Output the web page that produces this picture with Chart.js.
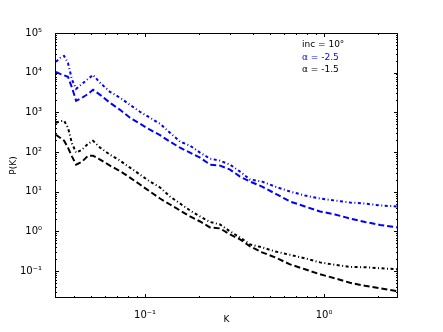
<!DOCTYPE html>
<html>
<head>
<meta charset="utf-8">
<script src="https://cdn.jsdelivr.net/npm/chart.js@4/dist/chart.umd.min.js"></script>
<style>
  html, body { margin: 0; padding: 0; background: #fff; }
  #wrap { width: 443px; height: 332px; }
</style>
</head>
<body>
<div id="wrap"><canvas id="c"></canvas></div>
<script>
// wavenumber grid shared by all four spectra
const kValues = [0.0318, 0.0335, 0.0353, 0.0371, 0.0391, 0.0412, 0.0445, 0.0481, 0.0512, 0.0561,
    0.0637, 0.0725, 0.0824, 0.0937, 0.1066, 0.1213, 0.1379, 0.1569, 0.1784, 0.2029,
    0.2307, 0.2624, 0.2984, 0.3394, 0.3860, 0.4506, 0.5325, 0.6457, 0.7834, 0.9498,
    1.152, 1.397, 1.694, 2.054, 2.59];

// alpha = -2.5 (blue)
const blueDashDot = [18700, 23500, 26400, 17600, 6590, 3920, 5230, 6980, 8810, 5540,
    3290, 2330, 1550, 1035, 731, 517, 307, 183, 145, 96.6,
    68.2, 60.8, 48.2, 32.2, 20.3, 18.0, 13.5, 10.1, 8.03, 6.75,
    6.01, 5.35, 5.05, 4.50, 4.25];
const blueDashed = [10470, 9330, 8550, 7840, 4150, 1955, 2330, 2930, 3700, 2770,
    1740, 1160, 731, 517, 365, 266, 183, 129, 96.6, 72.3,
    48.2, 45.5, 36.1, 24.1, 18.0, 13.5, 9.01, 5.67, 4.25, 3.18,
    2.67, 2.12, 1.73, 1.46, 1.26];

// alpha = -1.5 (black)
const blackDashDot = [548, 598, 615, 410, 163, 96.6, 115, 163, 193, 129,
    86.0, 60.8, 40.5, 27.0, 18.0, 12.8, 7.57, 5.05, 3.37, 2.38,
    1.73, 1.50, 1.00, 0.707, 0.471, 0.396, 0.314, 0.257, 0.210, 0.166,
    0.144, 0.128, 0.125, 0.118, 0.111];
const blackDashed = [274, 230, 193, 129, 76.6, 48.2, 57.4, 81.2, 81.2, 64.4,
    45.5, 33.1, 22.7, 15.2, 10.1, 6.75, 4.77, 3.37, 2.38, 1.78,
    1.26, 1.19, 0.841, 0.630, 0.420, 0.297, 0.222, 0.148, 0.111, 0.0831,
    0.0659, 0.0508, 0.0427, 0.0370, 0.0311];

const xTicks = [0.1, 1];
const yTicks = [0.1, 1, 10, 100, 1000, 10000, 100000];
const legendLines = [
    { text: 'inc = 10°', color: '#000' },
    { text: 'α = -2.5', color: '#0000ff' },
    { text: 'α = -1.5', color: '#000' },
];

const sup = { '-': '⁻', '0': '⁰', '1': '¹', '2': '²', '3': '³', '4': '⁴', '5': '⁵' };
const powLabel = v => '10' + String(Math.round(Math.log10(v))).split('').map(ch => sup[ch]).join('');
const pts = vals => kValues.map((k, i) => ({ x: k, y: vals[i] }));

const series = (vals, color, dash) => ({
    data: pts(vals),
    borderColor: color,
    borderWidth: 2,
    borderDash: dash,
    pointRadius: 0,
    fill: false,
    tension: 0,
    showLine: true,
});

const FONT = '"DejaVu Sans", sans-serif';

// matplotlib-style inward ticks on all four spines, plus axis labels and text box
const frame = {
    id: 'frame',
    afterDraw(chart) {
        const { ctx, chartArea: a, scales: { x, y } } = chart;
        ctx.save();
        ctx.strokeStyle = '#000';
        ctx.lineWidth = 1;
        const minor = (lo, hi) => {
            const out = [];
            for (let d = Math.floor(Math.log10(lo)); d <= Math.ceil(Math.log10(hi)); d++) {
                for (let m = 1; m < 10; m++) {
                    const v = m * Math.pow(10, d);
                    if (v >= lo && v <= hi) out.push({ v, major: m === 1 });
                }
            }
            return out;
        };
        ctx.beginPath();
        minor(x.min, x.max).forEach(t => {
            const px = Math.round(x.getPixelForValue(t.v)) + 0.5;
            const len = t.major ? 4 : 2;
            ctx.moveTo(px, a.bottom); ctx.lineTo(px, a.bottom - len);
            ctx.moveTo(px, a.top); ctx.lineTo(px, a.top + len);
        });
        minor(y.min, y.max).forEach(t => {
            const py = Math.round(y.getPixelForValue(t.v)) + 0.5;
            const len = t.major ? 4 : 2;
            ctx.moveTo(a.left, py); ctx.lineTo(a.left + len, py);
            ctx.moveTo(a.right, py); ctx.lineTo(a.right - len, py);
        });
        ctx.stroke();
        ctx.strokeRect(a.left + 0.5, a.top + 0.5, a.right - a.left - 1, a.bottom - a.top - 1);

        ctx.fillStyle = '#000';
        ctx.font = '9px ' + FONT;
        ctx.textAlign = 'center';
        ctx.textBaseline = 'middle';
        ctx.fillText('K', (a.left + a.right) / 2, 320);
        ctx.save();
        ctx.translate(14, (a.top + a.bottom) / 2);
        ctx.rotate(-Math.PI / 2);
        ctx.fillText('P(K)', 0, 0);
        ctx.restore();

        ctx.textAlign = 'left';
        legendLines.forEach((l, i) => {
            ctx.fillStyle = l.color;
            ctx.fillText(l.text, 302, 45 + i * 12.5);
        });
        ctx.restore();
    },
};

new Chart(document.getElementById('c'), {
    type: 'scatter',
    data: {
        datasets: [
            series(blueDashDot, '#0000ff', [3, 2.5, 1, 2.5]),
            series(blueDashed, '#0000ff', [6, 3]),
            series(blackDashDot, '#000', [3, 2.5, 1, 2.5]),
            series(blackDashed, '#000', [6, 3]),
        ],
    },
    options: {
        responsive: true,
        maintainAspectRatio: false,
        animation: false,
        layout: { padding: { left: 0, top: 33, right: 45, bottom: 0 } },
        plugins: { legend: { display: false }, tooltip: { enabled: false } },
        scales: {
            x: {
                type: 'logarithmic',
                min: 0.0314,
                max: 2.59,
                grid: { display: false },
                border: { display: false },
                afterBuildTicks: s => { s.ticks = xTicks.map(v => ({ value: v })); },
                afterFit: s => { s.height = 34; },
                ticks: { callback: v => powLabel(v), color: '#000', font: { family: FONT, size: 10 }, padding: 3, maxRotation: 0 },
            },
            y: {
                type: 'logarithmic',
                min: 0.021,
                max: 100000,
                grid: { display: false },
                border: { display: false },
                afterBuildTicks: s => { s.ticks = yTicks.map(v => ({ value: v })); },
                afterFit: s => { s.width = 55; },
                ticks: { callback: v => powLabel(v), color: '#000', font: { family: FONT, size: 10 }, padding: 5 },
            },
        },
    },
    plugins: [frame],
});
</script>
</body>
</html>
